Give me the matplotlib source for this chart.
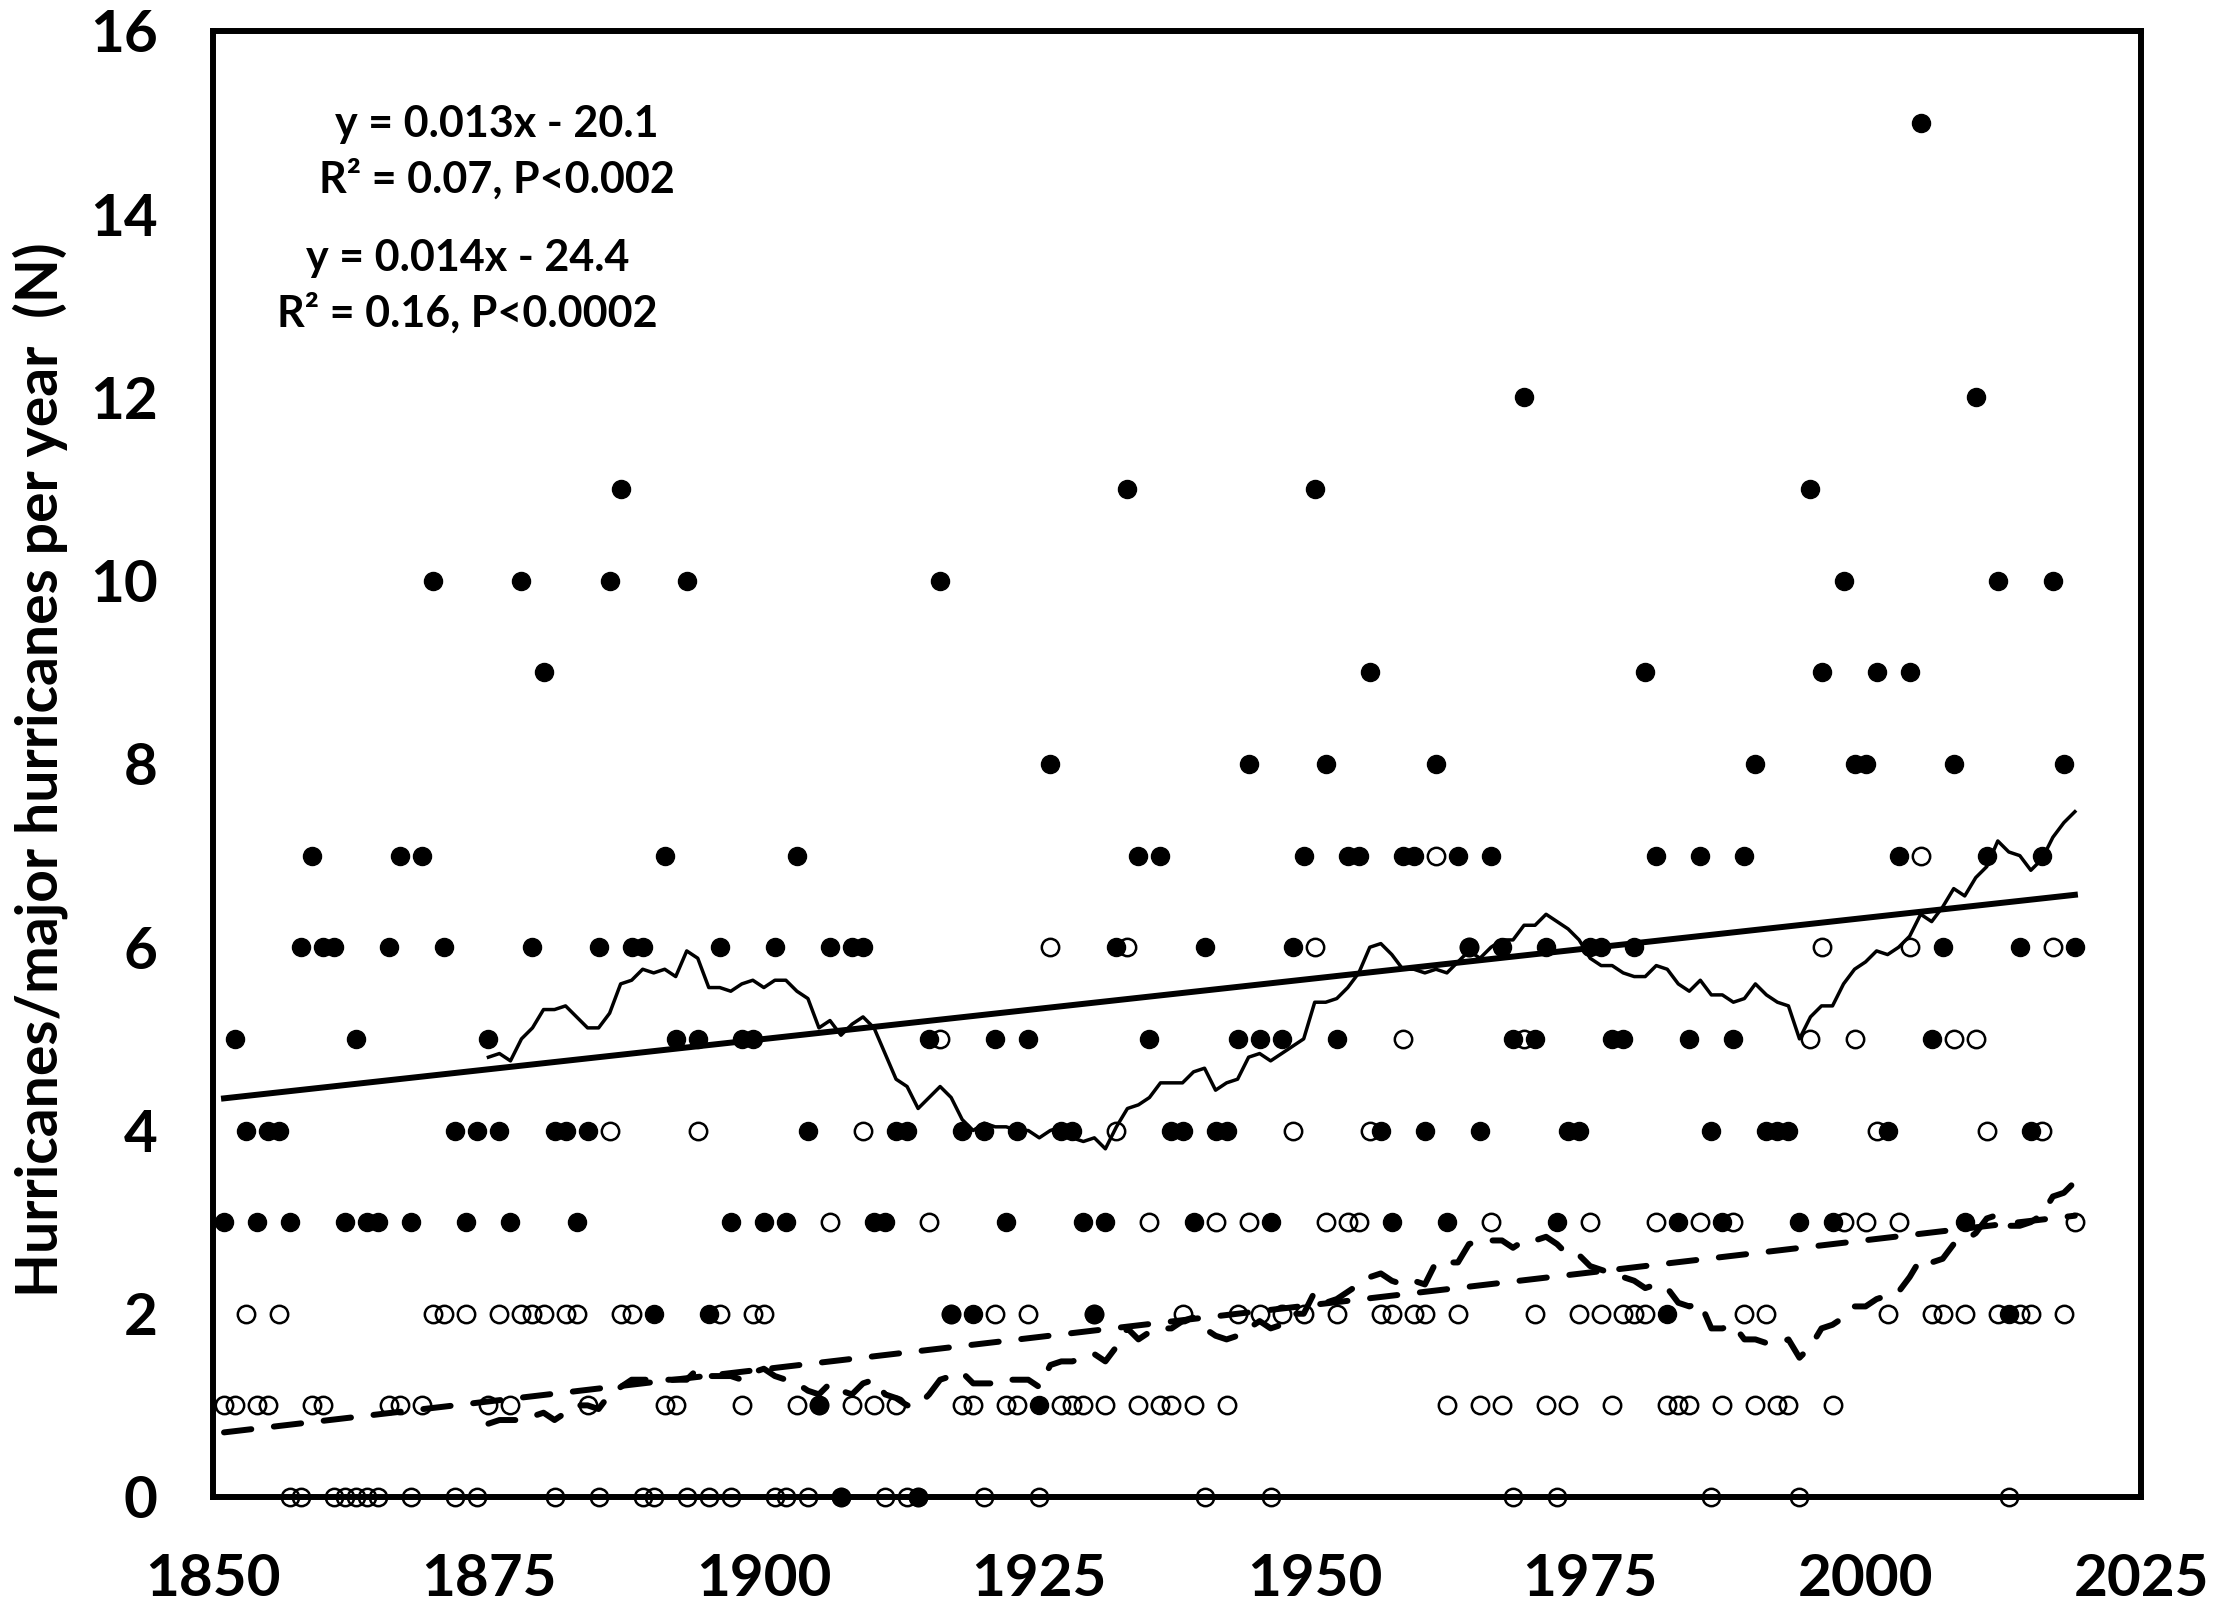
import numpy as np
import pandas as pd
import matplotlib
matplotlib.use("Agg")
import matplotlib.pyplot as plt

plt.rcParams['font.family'] = ['Lato', 'DejaVu Sans']
plt.rcParams['font.weight'] = 'bold'

# Atlantic hurricanes (filled) and major hurricanes (open) per year, 1851-2019
years = np.arange(1851, 2020)
hurricanes = [3, 5, 4, 3, 4, 4, 3, 6, 7, 6,
              6, 3, 5, 3, 3, 6, 7, 3, 7, 10,
              6, 4, 3, 4, 5, 4, 3, 10, 6, 9,
              4, 4, 3, 4, 6, 10, 11, 6, 6, 2,
              7, 5, 10, 5, 2, 6, 3, 5, 5, 3,
              6, 3, 7, 4, 1, 6, 0, 6, 6, 3,
              3, 4, 4, 0, 5, 10, 2, 4, 2, 4,
              5, 3, 4, 5, 1, 8, 4, 4, 3, 2,
              3, 6, 11, 7, 5, 7, 4, 4, 3, 6,
              4, 4, 5, 8, 5, 3, 5, 6, 7, 11,
              8, 5, 7, 7, 9, 4, 3, 7, 7, 4,
              8, 3, 7, 6, 4, 7, 6, 5, 12, 5,
              6, 3, 4, 4, 6, 6, 5, 5, 6, 9,
              7, 2, 3, 5, 7, 4, 3, 5, 7, 8,
              4, 4, 4, 3, 11, 9, 3, 10, 8, 8,
              9, 4, 7, 9, 15, 5, 6, 8, 3, 12,
              7, 10, 2, 6, 4, 7, 10, 8, 6]
major = [1, 1, 2, 1, 1, 2, 0, 0, 1, 1,
         0, 0, 0, 0, 0, 1, 1, 0, 1, 2,
         2, 0, 2, 0, 1, 2, 1, 2, 2, 2,
         0, 2, 2, 1, 0, 4, 2, 2, 0, 0,
         1, 1, 0, 4, 0, 2, 0, 1, 2, 2,
         0, 0, 1, 0, 1, 3, 0, 1, 4, 1,
         0, 1, 0, 0, 3, 5, 2, 1, 1, 0,
         2, 1, 1, 2, 0, 6, 1, 1, 1, 2,
         1, 4, 6, 1, 3, 1, 1, 2, 1, 0,
         3, 1, 2, 3, 2, 0, 2, 4, 2, 6,
         3, 2, 3, 3, 4, 2, 2, 5, 2, 2,
         7, 1, 2, 6, 1, 3, 1, 0, 5, 2,
         1, 0, 1, 2, 3, 2, 1, 2, 2, 2,
         3, 1, 1, 1, 3, 0, 1, 3, 2, 1,
         2, 1, 1, 0, 5, 6, 1, 3, 5, 3,
         4, 2, 3, 6, 7, 2, 2, 5, 2, 5,
         4, 2, 0, 2, 2, 4, 6, 2, 3]

eq_hurr = ["y = 0.013x - 20.1", "R\u00b2 = 0.07, P<0.002"]
eq_major = ["y = 0.014x - 24.4", "R\u00b2 = 0.16, P<0.0002"]

hurricanes = np.array(hurricanes)
major = np.array(major)

# linear trends and 25-year running means
fit_h = np.polyval(np.polyfit(years, hurricanes, 1), years)
fit_m = np.polyval(np.polyfit(years, major, 1), years)
ma_h = pd.Series(hurricanes, index=years).rolling(25).mean()
ma_m = pd.Series(major, index=years).rolling(25).mean()

W, H = 2217, 1611
fig = plt.figure(figsize=(W / 100, H / 100), dpi=100)
ax = fig.add_axes([213 / W, 1 - 1497 / H, (2141 - 213) / W, (1497 - 31) / H])

ax.plot(years, major, 'o', ms=12.5, mfc='none', mec='black', mew=1.8,
        clip_on=False, zorder=2)
ax.plot(years, hurricanes, 'o', ms=13, color='black', clip_on=False, zorder=3)

ax.plot(years, fit_h, color='black', lw=4.3, zorder=4)
ax.plot(years, ma_h, color='black', lw=2.5, zorder=4)
dash = (0, (4.6, 3.8))
ax.plot(years, fit_m, color='black', lw=4.3, linestyle=dash,
        dash_capstyle='round', zorder=4)
ax.plot(years, ma_m, color='black', lw=4.3, linestyle=dash,
        dash_capstyle='round', zorder=4)

ax.set_xlim(1850, 2025)
ax.set_ylim(0, 16)
ax.set_xticks(range(1850, 2026, 25))
ax.set_yticks(range(0, 17, 2))
ax.tick_params(length=0, labelsize=42, pad=40)
for s in ax.spines.values():
    s.set_linewidth(4.3)

ax.text(1875.8, 14.98, eq_hurr[0], ha='center', va='center', fontsize=31)
ax.text(1875.8, 14.38, eq_hurr[1], ha='center', va='center', fontsize=31)
ax.text(1873.1, 13.52, eq_major[0], ha='center', va='center', fontsize=31)
ax.text(1873.1, 12.92, eq_major[1], ha='center', va='center', fontsize=31)

fig.text(40 / W, 1 - 770 / H, "Hurricanes/major hurricanes per year  (N)",
         rotation=90, ha='center', va='center', fontsize=41)

fig.savefig("out.png", dpi=100)
